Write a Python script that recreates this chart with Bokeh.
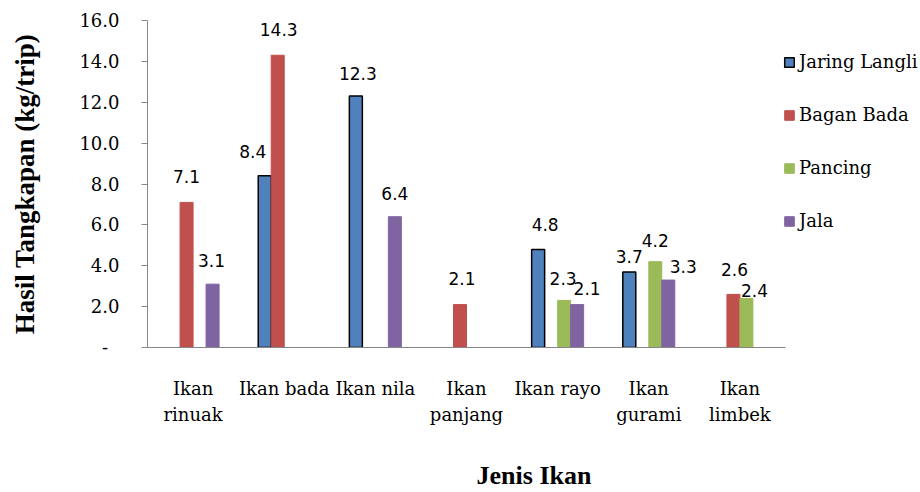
from bokeh.plotting import figure
from bokeh.models import ColumnDataSource, Range1d, FixedTicker, Legend, LegendItem
from bokeh.transform import dodge
from bokeh.core.properties import value
from bokeh.embed import file_html
from bokeh.resources import INLINE

# ---------------- data ----------------
categories = ["Ikan\nrinuak", "Ikan bada", "Ikan nila", "Ikan\npanjang",
              "Ikan rayo", "Ikan\ngurami", "Ikan\nlimbek"]
series_names = ["Jaring Langli", "Bagan Bada", "Pancing", "Jala"]
jaring_langli = [None, 8.4, 12.3, None, 4.8, 3.7, None]
bagan_bada = [7.1, 14.3, None, 2.1, None, None, 2.6]
pancing = [None, None, None, None, 2.3, 4.2, 2.4]
jala = [3.1, None, 6.4, None, 2.1, 3.3, None]
y_ticks = [0, 2, 4, 6, 8, 10, 12, 14, 16]
y_tick_labels = ["-\u00a0\u00a0", "2.0", "4.0", "6.0", "8.0", "10.0", "12.0", "14.0", "16.0"]

# ---------------- style ----------------
colors = ["#4F81BD", "#C0504D", "#9BBB59", "#8064A2"]
outlines = ["#000000", None, None, None]
bar_w = 0.1426
offsets = [-1.5 * bar_w, -0.5 * bar_w, 0.5 * bar_w, 1.5 * bar_w]
# per-label nudges in screen px (dx, dy downwards), as placed in the original
label_nudge = {
    ("Jaring Langli", "Ikan bada"): (-12, 2),
    ("Jaring Langli", "Ikan nila"): (2, 3),
    ("Jaring Langli", "Ikan rayo"): (7, 1),
    ("Jaring Langli", "Ikan\ngurami"): (0, 11),
    ("Bagan Bada", "Ikan bada"): (1, 0),
    ("Bagan Bada", "Ikan\npanjang"): (2, 0),
    ("Bagan Bada", "Ikan\nlimbek"): (1, 1),
    ("Pancing", "Ikan rayo"): (-1, 4),
    ("Pancing", "Ikan\ngurami"): (0, 5),
    ("Pancing", "Ikan\nlimbek"): (8, 18),
    ("Jala", "Ikan\nrinuak"): (-1, 2),
    ("Jala", "Ikan nila"): (0, 3),
    ("Jala", "Ikan rayo"): (10, 10),
    ("Jala", "Ikan\ngurami"): (15, 12),
}
LABEL_GAP = 26
serif = "DejaVu Serif"

n_cat = len(categories)
cat_px = 638.0 / n_cat          # pixel width of one category slot
frame_px = 920 - 147            # frame spans to the right edge (legend lives there)
x_end = -0.5 + frame_px / cat_px

p = figure(width=920, height=492, x_range=Range1d(-0.5, x_end),
           y_range=Range1d(0, 16), output_backend="svg", toolbar_location=None,
           min_border_left=147, min_border_right=0, min_border_top=20,
           min_border_bottom=144)
p.outline_line_color = None
p.xgrid.grid_line_color = None
p.ygrid.grid_line_color = None

all_series = [jaring_langli, bagan_bada, pancing, jala]
legend_items = []
for name, vals, col, oc, off in zip(series_names, all_series, colors, outlines, offsets):
    idx = [i for i, v in enumerate(vals) if v is not None]
    cats = [categories[i] for i in idx]
    vs = [vals[i] for i in idx]
    dxs = [label_nudge.get((name, c), (0, 0))[0] for c in cats]
    dys = [label_nudge.get((name, c), (0, 0))[1] - LABEL_GAP for c in cats]
    src = ColumnDataSource(dict(xi=idx, cat=cats, val=vs, txt=["%.1f" % v for v in vs],
                                dx=dxs, dy=dys))
    r = p.vbar(x=dodge("xi", off), top="val", width=bar_w, source=src,
               fill_color=col, line_color=oc if oc else col,
               line_width=1.5 if oc else 1)
    p.text(x=dodge("xi", off), y="val", text="txt", source=src,
           x_offset="dx", y_offset="dy", text_align="center", text_baseline="alphabetic",
           text_font=value("DejaVu Sans"), text_font_size="17px", text_color="#000000")
    legend_items.append(LegendItem(label=name, renderers=[r]))

legend = Legend(items=legend_items, location=(636, 116), orientation="vertical",
                glyph_width=12, glyph_height=12, label_standoff=4, label_height=20,
                spacing=32, padding=0, margin=0, border_line_color=None,
                background_fill_alpha=0, label_text_font=serif,
                label_text_font_size="18px", label_text_color="#000000")
p.add_layout(legend, "center")

# y axis
p.yaxis.ticker = FixedTicker(ticks=y_ticks)
p.yaxis.major_label_overrides = {t: l for t, l in zip(y_ticks, y_tick_labels)}
p.yaxis.minor_tick_line_color = None
p.yaxis.major_tick_out = 6
p.yaxis.major_tick_in = 0
p.yaxis.major_label_standoff = 22
p.yaxis.axis_line_color = "#868686"
p.yaxis.major_tick_line_color = "#868686"
p.yaxis.major_label_text_font = serif
p.yaxis.major_label_text_font_size = "18px"
p.yaxis.major_label_text_color = "#000000"
p.yaxis.axis_label = "Hasil Tangkapan (kg/trip)"
p.yaxis.axis_label_text_font = "Liberation Serif"
p.yaxis.axis_label_text_font_style = "bold"
p.yaxis.axis_label_text_font_size = "27px"
p.yaxis.axis_label_text_color = "#000000"
p.yaxis.axis_label_standoff = 36

# x axis (category slots at 0..n-1, line limited to the category area)
p.xaxis.ticker = FixedTicker(ticks=list(range(n_cat)))
p.xaxis.major_label_overrides = {i: c for i, c in enumerate(categories)}
p.xaxis.bounds = (-0.5, n_cat - 0.5)
p.xaxis.major_tick_line_color = None
p.xaxis.minor_tick_line_color = None
p.xaxis.axis_line_color = "#868686"
p.xaxis.major_label_standoff = 24
p.xaxis.major_label_text_font = serif
p.xaxis.major_label_text_font_size = "18px"
p.xaxis.major_label_text_line_height = 1.25
p.xaxis.major_label_text_color = "#000000"
p.xaxis.axis_label = "Jenis Ikan"
p.xaxis.axis_label_text_font = "Liberation Serif"
p.xaxis.axis_label_text_font_style = "bold"
p.xaxis.axis_label_text_font_size = "26px"
p.xaxis.axis_label_text_color = "#000000"
p.xaxis.axis_label_standoff = 33

open("out.html", "w").write(file_html(p, INLINE))
